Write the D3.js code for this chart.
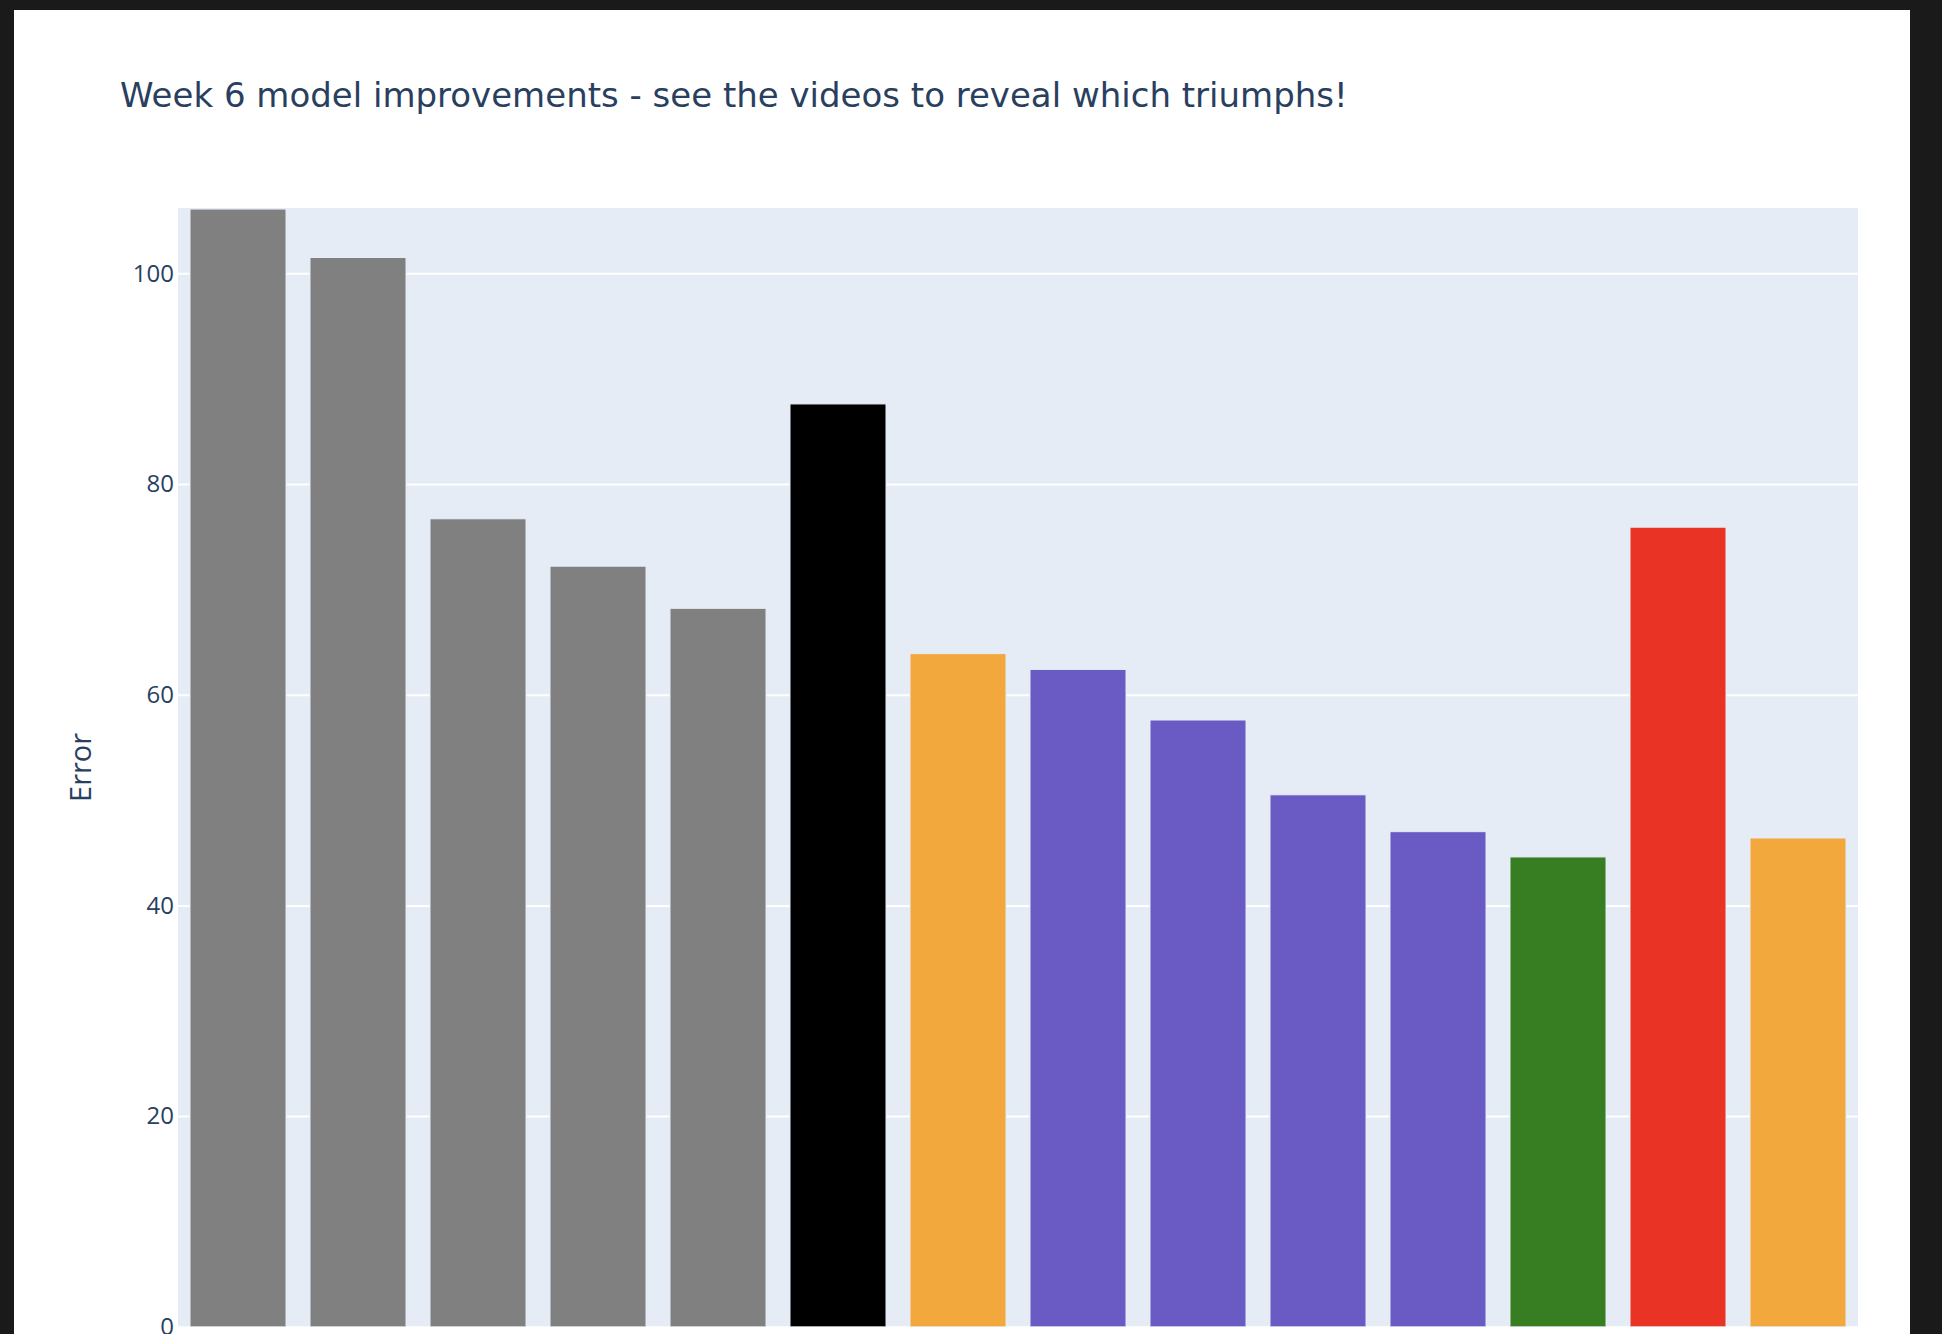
<!DOCTYPE html>
<html>
<head>
<meta charset="utf-8">
<script src="https://cdn.jsdelivr.net/npm/d3@7"></script>
<style>
  html, body { margin: 0; padding: 0; background: #1a1a1a; overflow: hidden; }
  svg { display: block; }
  text { font-family: "Open Sans", verdana, arial, sans-serif; fill: #2a3f5f; }
</style>
</head>
<body>
<div id="chart"></div>
<script>
// data (x labels sit below the visible area)
const models = ['M1', 'M2', 'M3', 'M4', 'M5', 'M6', 'M7',
                'M8', 'M9', 'M10', 'M11', 'M12', 'M13', 'M14'];
const errors = [106.1, 101.5, 76.7, 72.2, 68.2, 87.6, 63.9,
                62.4, 57.6, 50.5, 47.0, 44.6, 75.9, 46.4];
const barColors = ['#808080', '#808080', '#808080', '#808080', '#808080', '#000000', '#f2a83c',
                   '#6a5bc4', '#6a5bc4', '#6a5bc4', '#6a5bc4', '#377d22', '#e93425', '#f2a83c'];
const yTicks = [0, 20, 40, 60, 80, 100];
const yMax = 106.2;

const W = 1942, H = 1334;
const plot = { left: 178, right: 1858, top: 208, bottom: 1326.8 };

const svg = d3.select('#chart')
  .append('svg')
  .attr('width', W)
  .attr('height', H);

// white paper
svg.append('rect')
  .attr('x', 14).attr('y', 10)
  .attr('width', 1910 - 14).attr('height', H)
  .attr('fill', '#ffffff');

// title - wider font than the axis text, fit to the width seen in the reference
const title = svg.append('text')
  .attr('x', 120)
  .attr('y', 106.7)
  .style('font-family', '"DejaVu Sans", Verdana, sans-serif')
  .style('font-size', '31px')
  .text('Week 6 model improvements - see the videos to reveal which triumphs!');
const tw = title.node().getComputedTextLength();
title.style('font-size', (31 * 1228 / tw) + 'px');

// scales
const x = d3.scaleBand()
  .domain(models)
  .range([plot.left, plot.right])
  .paddingInner(0.2)
  .paddingOuter(0.1);

const y = d3.scaleLinear()
  .domain([0, yMax])
  .range([plot.bottom, plot.top]);

// plot background
svg.append('rect')
  .attr('x', plot.left).attr('y', plot.top)
  .attr('width', plot.right - plot.left)
  .attr('height', plot.bottom - plot.top)
  .attr('fill', '#e5ecf6');

svg.append('clipPath').attr('id', 'plotclip')
  .append('rect')
  .attr('x', plot.left).attr('y', plot.top)
  .attr('width', plot.right - plot.left)
  .attr('height', plot.bottom - plot.top);

// gridlines
svg.append('g')
  .attr('transform', `translate(${plot.left},0)`)
  .call(d3.axisLeft(y).tickValues(yTicks).tickSize(-(plot.right - plot.left)).tickFormat(''))
  .call(g => g.select('.domain').remove())
  .call(g => g.selectAll('line').attr('stroke', '#ffffff').attr('stroke-width', 2));

// bars
svg.append('g')
  .attr('clip-path', 'url(#plotclip)')
  .selectAll('rect')
  .data(errors)
  .join('rect')
  .attr('x', (d, i) => x(models[i]))
  .attr('width', x.bandwidth())
  .attr('y', d => y(d))
  .attr('height', d => y(0) - y(d))
  .attr('fill', (d, i) => barColors[i])
  .attr('stroke', '#e5ecf6')
  .attr('stroke-width', 1);

// y tick labels
svg.append('g')
  .attr('transform', `translate(${plot.left},0)`)
  .call(d3.axisLeft(y).tickValues(yTicks).tickSize(0).tickPadding(4))
  .call(g => g.select('.domain').remove())
  .call(g => g.selectAll('text')
    .style('font-size', '24px')
    .style('fill', '#2a3f5f'));

// y axis title
svg.append('text')
  .attr('transform', `translate(91,${(plot.top + plot.bottom) / 2}) rotate(-90)`)
  .attr('text-anchor', 'middle')
  .style('font-size', '29px')
  .text('Error');
</script>
</body>
</html>
